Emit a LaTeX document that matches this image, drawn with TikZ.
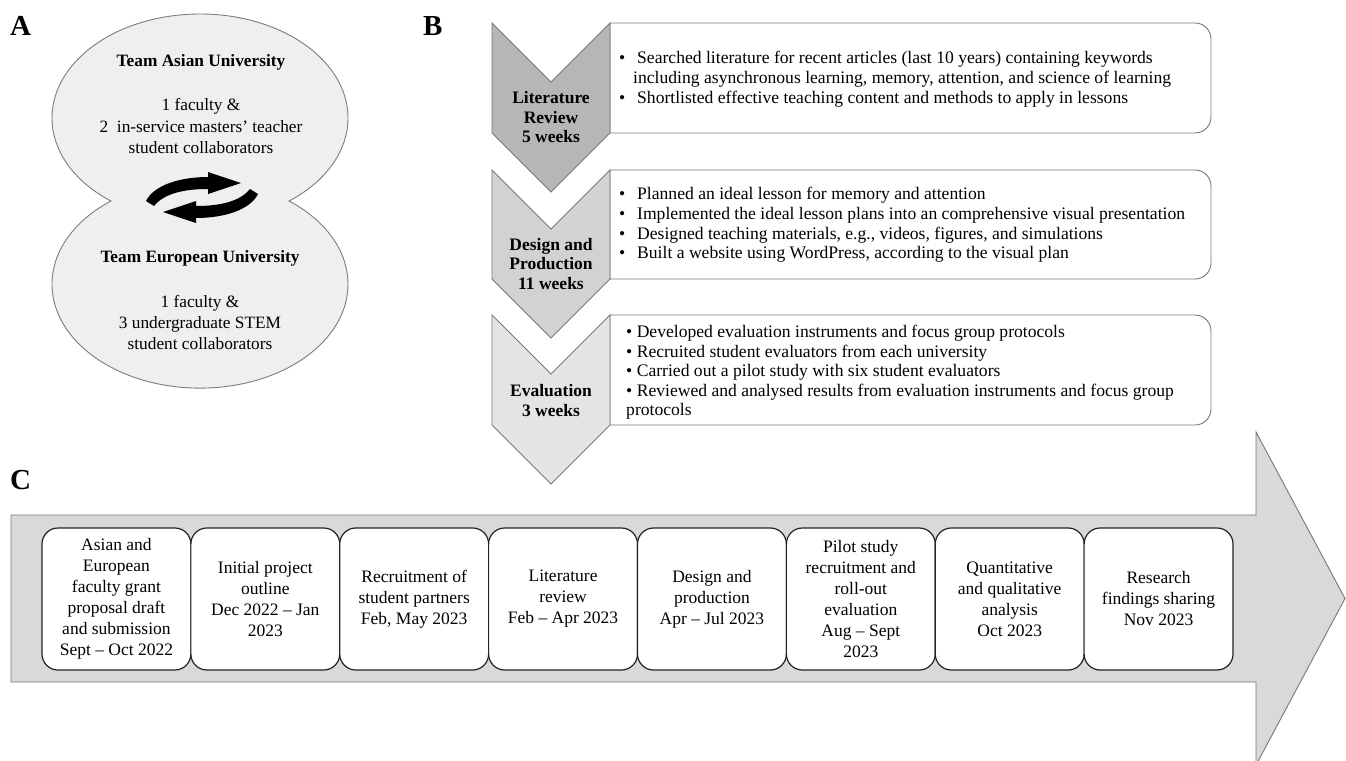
\documentclass[tikz,border=0pt]{standalone}
\usepackage{fontspec}
\setmainfont{Liberation Serif}
\definecolor{ellfill}{RGB}{239,239,239}
\definecolor{ellline}{RGB}{125,125,125}
\definecolor{chevA}{RGB}{182,182,182}
\definecolor{chevB}{RGB}{210,210,210}
\definecolor{chevC}{RGB}{228,228,228}
\definecolor{arrfill}{RGB}{217,217,217}
\definecolor{grayline}{RGB}{120,120,120}
\definecolor{boxline}{RGB}{35,35,35}
\tikzset{
  lab/.style={font=\bfseries\fontsize{29}{30}\selectfont, anchor=base west, inner sep=0pt},
  ttl/.style={font=\bfseries\fontsize{17.3}{21}\selectfont, inner sep=0pt},
  body/.style={font=\fontsize{17.3}{21.2}\selectfont, align=center, inner sep=0pt},
  chevtext/.style={font=\bfseries\fontsize{17.5}{19.5}\selectfont, align=center, inner sep=0pt},
  bl/.style={font=\fontsize{17.6}{20}\selectfont, anchor=base west, inner sep=0pt},
  chevshape/.style={draw=grayline, line width=0.9pt},
  listbox/.style={draw=grayline, line width=0.9pt, fill=white},
  tlbox/.style={draw=boxline, line width=1.2pt, fill=white, rounded corners=16pt,
    minimum width=148.875pt, minimum height=142pt, inner sep=0pt,
    font=\fontsize{17.5}{21}\selectfont, align=center},
  pics/swaparrow/.style={code={
    \fill[black] (-56,-3.5) .. controls (-48,12.5) and (-22,20.5) .. (6,20.5)
      -- (6,25.5) -- (39,14.5) -- (6,3.5) -- (6,8.5)
      .. controls (-18,8.5) and (-38,4) .. (-48,-8.5) -- cycle;
  }}
}
\begin{document}
\begin{tikzpicture}[x=1pt,y=1pt]
\useasboundingbox (0,0) rectangle (1346,-760);
\clip (0,0) rectangle (1346,-760);
\fill[white] (0,0) rectangle (1346,-760);

% ---------- Panel labels
\node[lab] (labA) at (10,-36) {A};
\node[lab] (labB) at (423,-36) {B};
\node[lab] (labC) at (10,-489) {C};

% ---------- Panel A
\filldraw[fill=ellfill, draw=ellline, line width=0.9pt]
  (200,-118) ++(233:148 and 104)
  arc[start angle=233, end angle=-53, x radius=148, y radius=104]
  arc[start angle=53, end angle=-233, x radius=148, y radius=104] -- cycle;
\node[ttl] (asiaT) at (201,-62) {Team Asian University};
\node[body] (asiaB) at (201,-126) {1 faculty \&\\2\ \ in-service masters’ teacher\\student collaborators};
\node[ttl] (euT) at (200,-258) {Team European University};
\node[body] (euB) at (200,-322.5) {1 faculty \&\\3 undergraduate STEM\\student collaborators};
\pic at (202,-197.5) {swaparrow};
\pic[rotate=180] at (202,-197.5) {swaparrow};

% ---------- Panel B : list boxes
\draw[listbox] (610,-23) -- (1195,-23) arc[start angle=90,end angle=0,radius=16]
  -- (1211,-117) arc[start angle=0,end angle=-90,radius=16] -- (610,-133) -- cycle;
\draw[listbox] (610,-170) -- (1195,-170) arc[start angle=90,end angle=0,radius=16]
  -- (1211,-263) arc[start angle=0,end angle=-90,radius=16] -- (610,-279) -- cycle;
\draw[listbox] (610,-315) -- (1195,-315) arc[start angle=90,end angle=0,radius=16]
  -- (1211,-409) arc[start angle=0,end angle=-90,radius=16] -- (610,-425) -- cycle;

% chevrons
\draw[chevshape, fill=chevA] (492,-23) -- (551,-82) -- (610,-23) -- (610,-133) -- (551,-192) -- (492,-133) -- cycle;
\draw[chevshape, fill=chevB] (492,-170) -- (551,-229) -- (610,-170) -- (610,-279) -- (551,-338) -- (492,-279) -- cycle;
\draw[chevshape, fill=chevC] (492,-315) -- (551,-374) -- (610,-315) -- (610,-425) -- (551,-484) -- (492,-425) -- cycle;

\node[chevtext] (c1) at (551,-117.5) {Literature\\Review\\5 weeks};
\node[chevtext] (c2) at (551,-264) {Design and\\Production\\11 weeks};
\node[chevtext] (c3) at (551,-400.5) {Evaluation\\3 weeks};

% box 1 text
\node[bl] (b11) at (619,-63.5) {\makebox[18pt][l]{•}Searched literature for recent articles (last 10 years) containing keywords};
\node[bl] (b12) at (633,-83.5) {including asynchronous learning, memory, attention, and science of learning};
\node[bl] (b13) at (619,-103.5) {\makebox[18pt][l]{•}Shortlisted effective teaching content and methods to apply in lessons};
% box 2 text
\node[bl] (b21) at (619,-199.5) {\makebox[18pt][l]{•}Planned an ideal lesson for memory and attention};
\node[bl] (b22) at (619,-219.5) {\makebox[18pt][l]{•}Implemented the ideal lesson plans into an comprehensive visual presentation};
\node[bl] (b23) at (619,-239.5) {\makebox[18pt][l]{•}Designed teaching materials, e.g., videos, figures, and simulations};
\node[bl] (b24) at (619,-258.5) {\makebox[18pt][l]{•}Built a website using WordPress, according to the visual plan};
% box 3 text
\node[bl] (b31) at (626,-337.5) {• Developed evaluation instruments and focus group protocols};
\node[bl] (b32) at (626,-357) {• Recruited student evaluators from each university};
\node[bl] (b33) at (626,-376.5) {• Carried out a pilot study with six student evaluators};
\node[bl] (b34) at (626,-396) {• Reviewed and analysed results from evaluation instruments and focus group};
\node[bl] (b35) at (626,-415) {protocols};

% ---------- Panel C
\draw[fill=arrfill, draw=grayline, line width=0.9pt]
  (11,-515) -- (1256,-515) -- (1256,-432) -- (1345,-598.5) -- (1256,-765)
  -- (1256,-682) -- (11,-682) -- cycle;

\node[tlbox] (t1) at (116.44,-599) {Asian and\\European\\faculty grant\\proposal draft\\and submission\\Sept – Oct 2022};
\node[tlbox] (t2) at (265.31,-599) {Initial project\\outline\\Dec 2022 – Jan\\2023};
\node[tlbox] (t3) at (414.19,-599) {Recruitment of\\student partners\\Feb, May 2023};
\node[tlbox] (t4) at (563.06,-599) {Literature\\review\\Feb – Apr 2023};
\node[tlbox] (t5) at (711.94,-599) {Design and\\production\\Apr – Jul 2023};
\node[tlbox] (t6) at (860.81,-599) {Pilot study\\recruitment and\\roll-out\\evaluation\\Aug – Sept\\2023};
\node[tlbox] (t7) at (1009.69,-599) {Quantitative\\and qualitative\\analysis\\Oct 2023};
\node[tlbox] (t8) at (1158.56,-599) {Research\\findings sharing\\Nov 2023};
\end{tikzpicture}
\end{document}
